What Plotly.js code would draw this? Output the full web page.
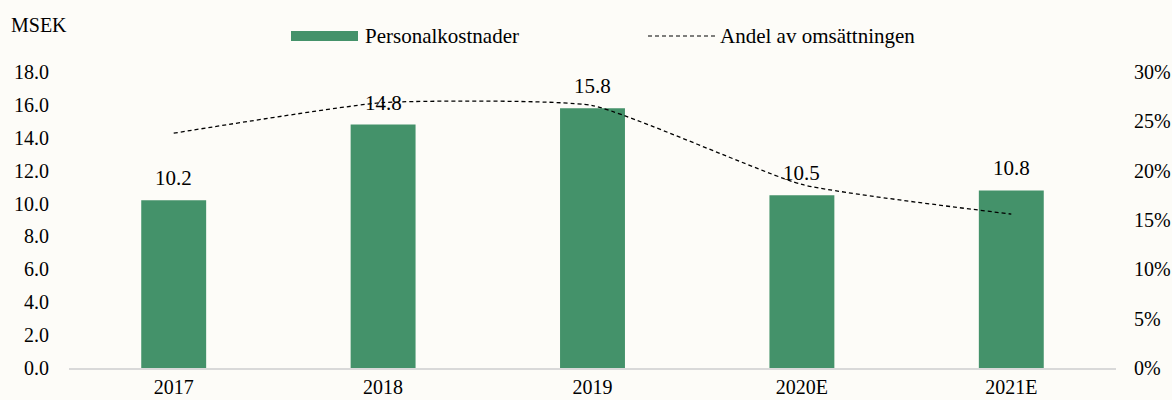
<!DOCTYPE html>
<html>
<head>
<meta charset="utf-8">
<script src="https://cdn.plot.ly/plotly-3.0.1.min.js"></script>
<style>
  html, body { margin: 0; padding: 0; background: #FDFCF8; }
  #chart { width: 1172px; height: 400px; }
</style>
</head>
<body>
<div id="chart"></div>
<script>
// ---- data ----
const categories = ['2017', '2018', '2019', '2020E', '2021E'];
const personalkostnader = [10.2, 14.8, 15.8, 10.5, 10.8];   // MSEK
const andelAvOmsattningen = [0.238, 0.269, 0.266, 0.186, 0.156]; // share of revenue
const barLabels = ['10.2', '14.8', '15.8', '10.5', '10.8'];
const leftTicks = [0, 2, 4, 6, 8, 10, 12, 14, 16, 18];
const rightTicks = [0, 0.05, 0.10, 0.15, 0.20, 0.25, 0.30];

// ---- style ----
const W = 1172, H = 400;
const M = { l: 69, r: 56, t: 72, b: 32 };
const FONT = 'Liberation Serif, Times New Roman, serif';
const GREEN = '#44926A';
const BG = '#FDFCF8';
const FS = 20;

// pixel -> paper helpers for the hand-built legend
const pw = W - M.l - M.r, ph = H - M.t - M.b;
const px = x => (x - M.l) / pw;
const py = y => 1 - (y - M.t) / ph;

const traces = [
  {
    type: 'bar',
    x: categories,
    y: personalkostnader,
    name: 'Personalkostnader',
    marker: { color: GREEN },
    width: 0.31,
    yaxis: 'y'
  },
  {
    type: 'scatter',
    mode: 'lines',
    x: categories,
    y: andelAvOmsattningen,
    name: 'Andel av omsättningen',
    line: { color: '#000000', width: 1.3, dash: '4px,3px', shape: 'spline', smoothing: 0.45 },
    yaxis: 'y2'
  }
];

// data labels: category index on the category axis
const annotations = categories.map((c, i) => ({
  x: i, y: personalkostnader[i], xref: 'x', yref: 'y',
  text: barLabels[i], showarrow: false,
  yanchor: 'bottom', yshift: 8,
  font: { family: FONT, size: FS + 1, color: '#000' }
}));

annotations.push({
  xref: 'paper', yref: 'paper', x: px(9), y: py(25),
  xanchor: 'left', yanchor: 'middle', text: 'MSEK', showarrow: false,
  font: { family: FONT, size: FS, color: '#000' }
});
annotations.push({
  xref: 'paper', yref: 'paper', x: px(363), y: py(36),
  xanchor: 'left', yanchor: 'middle', text: 'Personalkostnader', showarrow: false,
  font: { family: FONT, size: FS + 1, color: '#000' }
});
annotations.push({
  xref: 'paper', yref: 'paper', x: px(718), y: py(36),
  xanchor: 'left', yanchor: 'middle', text: 'Andel av omsättningen', showarrow: false,
  font: { family: FONT, size: FS + 1, color: '#000' }
});

const shapes = [
  { type: 'rect', xref: 'paper', yref: 'paper',
    x0: px(291), x1: px(358), y0: py(41), y1: py(31),
    fillcolor: GREEN, line: { width: 0 } },
  { type: 'line', xref: 'paper', yref: 'paper',
    x0: px(648), x1: px(715), y0: py(36), y1: py(36),
    line: { color: '#000', width: 1.2, dash: '4px,3px' } }
];

const layout = {
  width: W, height: H,
  margin: M,
  paper_bgcolor: BG, plot_bgcolor: BG,
  showlegend: false,
  font: { family: FONT, size: FS, color: '#000' },
  xaxis: {
    type: 'category',
    range: [-0.5, categories.length - 0.5],
    autorange: false,
    showgrid: false,
    showline: true, linecolor: '#D9D9D9', linewidth: 2,
    ticks: '',
    tickfont: { family: FONT, size: FS, color: '#000' },
    zeroline: false
  },
  yaxis: {
    range: [0, 18], autorange: false,
    tickvals: leftTicks,
    ticktext: leftTicks.map(v => v.toFixed(1)),
    showgrid: false, zeroline: false, showline: false,
    ticks: 'outside', ticklen: 15, tickcolor: 'rgba(0,0,0,0)',
    tickfont: { family: FONT, size: FS, color: '#000' }
  },
  yaxis2: {
    range: [0, 0.30], autorange: false,
    overlaying: 'y', side: 'right',
    tickvals: rightTicks,
    ticktext: rightTicks.map(v => Math.round(v * 100) + '%'),
    showgrid: false, zeroline: false, showline: false,
    ticks: 'outside', ticklen: 13, tickcolor: 'rgba(0,0,0,0)',
    tickfont: { family: FONT, size: FS, color: '#000' }
  },
  annotations: annotations,
  shapes: shapes
};

Plotly.newPlot('chart', traces, layout, { displayModeBar: false, staticPlot: true });
</script>
</body>
</html>
